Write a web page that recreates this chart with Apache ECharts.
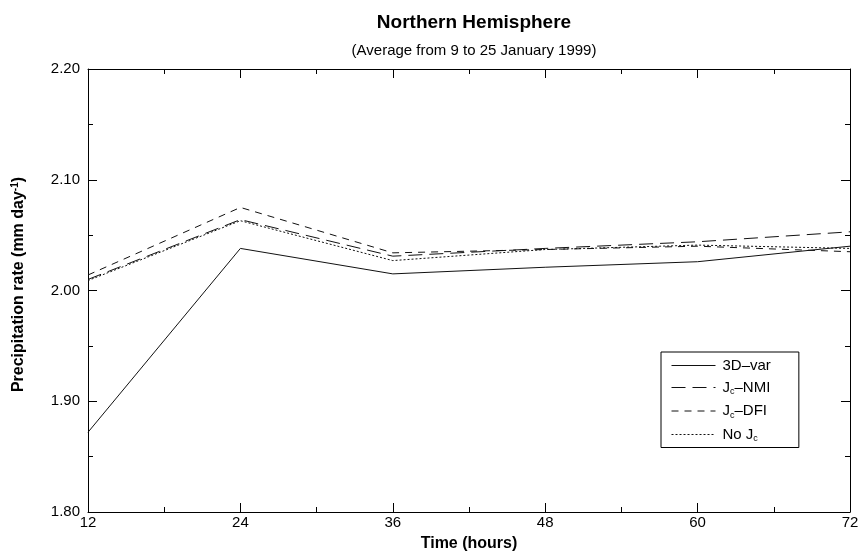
<!DOCTYPE html>
<html><head><meta charset="utf-8">
<script src="https://cdn.jsdelivr.net/npm/echarts@6/dist/echarts.min.js"></script>
<style>html,body{margin:0;padding:0;background:#fff}#c{width:865px;height:558px}</style>
</head><body><div id="c"></div>
<script>
const hours = [12, 24, 36, 48, 60, 72];
const var3d = [1.872, 2.038, 2.015, 2.021, 2.026, 2.040];
const jcNMI = [2.010, 2.064, 2.031, 2.038, 2.044, 2.053];
const jcDFI = [2.014, 2.075, 2.034, 2.037, 2.040, 2.035];
const noJc  = [2.009, 2.063, 2.027, 2.037, 2.041, 2.038];
const yTicks = [1.80, 1.90, 2.00, 2.10, 2.20];
const xTicks = [12, 24, 36, 48, 60, 72];

const font = '"Liberation Sans", Arial, Helvetica, sans-serif';
const pair = a => hours.map((h, i) => [h, a[i]]);
const legendNames = {
  '3D–var': '3D–var',
  'Jc–NMI': 'J{sub|c}–NMI',
  'Jc–DFI': 'J{sub|c}–DFI',
  'No Jc': 'No J{sub|c}'
};
function mkSeries(name, data, type) {
  return {
    name, type: 'line', data: pair(data), symbol: 'none', showSymbol: false,
    lineStyle: { color: '#111', width: 1, type }, itemStyle: { color: '#111' },
    emphasis: { disabled: true }, animation: false
  };
}
const chart = echarts.init(document.getElementById('c'), null, { renderer: 'canvas' });
const tickX = { show: true, inside: true, length: 9, lineStyle: { color: '#000' } };
const minorX = { show: true, splitNumber: 2, length: 5, lineStyle: { color: '#000' } };
chart.setOption({
  animation: false,
  backgroundColor: '#fff',
  textStyle: { fontFamily: font },
  title: [
    { text: 'Northern Hemisphere', left: 469, top: 8, textAlign: 'center',
      textStyle: { fontFamily: font, fontWeight: 'bold', fontSize: 19, color: '#000' } },
    { text: '(Average from 9 to 25 January 1999)', left: 469, top: 38, textAlign: 'center',
      textStyle: { fontFamily: font, fontWeight: 'normal', fontSize: 15, color: '#000' } }
  ],
  grid: { left: 88, right: 15, top: 69, bottom: 46, show: false, outerBoundsMode: 'none' },
  xAxis: [
    { type: 'value', min: 12, max: 72, interval: 12, position: 'bottom',
      name: 'Time (hours)', nameLocation: 'middle', nameGap: 24,
      nameTextStyle: { fontFamily: font, fontWeight: 'bold', fontSize: 16, color: '#000' },
      axisLine: { show: true, lineStyle: { color: '#000', width: 1 } },
      axisTick: tickX, minorTick: minorX, splitLine: { show: false },
      axisLabel: { fontFamily: font, fontSize: 15, color: '#000', margin: 3,
        customValues: xTicks, formatter: v => String(v) } },
    { type: 'value', min: 12, max: 72, interval: 12, position: 'top',
      axisLine: { show: true, lineStyle: { color: '#000', width: 1 } },
      axisTick: tickX, minorTick: minorX, splitLine: { show: false },
      axisLabel: { show: false } }
  ],
  yAxis: [
    { type: 'value', min: 1.8, max: 2.2, interval: 0.1, position: 'left',
      name: 'Precipitation rate (mm day{sup|-1})', nameLocation: 'middle', nameGap: 60, nameRotate: 90,
      nameTextStyle: { fontFamily: font, fontWeight: 'bold', fontSize: 16, color: '#000',
        padding: [0, 0, 0, 12],
        rich: { sup: { fontFamily: font, fontWeight: 'bold', fontSize: 10, color: '#000', verticalAlign: 'top', padding: [0, 0, 8, 0] } } },
      axisLine: { show: true, lineStyle: { color: '#000', width: 1 } },
      axisTick: tickX, minorTick: minorX, splitLine: { show: false },
      axisLabel: { fontFamily: font, fontSize: 15, color: '#000', margin: 8,
        customValues: yTicks, formatter: v => v.toFixed(2) } },
    { type: 'value', min: 1.8, max: 2.2, interval: 0.1, position: 'right',
      axisLine: { show: true, lineStyle: { color: '#000', width: 1 } },
      axisTick: tickX, minorTick: minorX, splitLine: { show: false },
      axisLabel: { show: false } }
  ],
  legend: {
    orient: 'vertical', left: 661, top: 352,
    padding: [6, 28, 4, 10], itemGap: 7, itemWidth: 44, itemHeight: 16,
    borderColor: '#000', borderWidth: 1, backgroundColor: '#fff',
    data: ['3D–var', 'Jc–NMI', 'Jc–DFI', 'No Jc'],
    formatter: n => legendNames[n],
    itemStyle: { opacity: 0 },
    textStyle: { fontFamily: font, fontSize: 15, color: '#000', padding: [0, 0, 0, 2],
      rich: { sub: { fontFamily: font, fontSize: 9, color: '#000', verticalAlign: 'bottom', padding: [9, 0, 0, 0] } } },
    lineStyle: { width: 1 }
  },
  series: [
    mkSeries('3D–var', var3d, 'solid'),
    mkSeries('Jc–NMI', jcNMI, [14, 7]),
    mkSeries('Jc–DFI', jcDFI, [7, 6]),
    mkSeries('No Jc', noJc, [2, 2])
  ]
});
</script></body></html>
